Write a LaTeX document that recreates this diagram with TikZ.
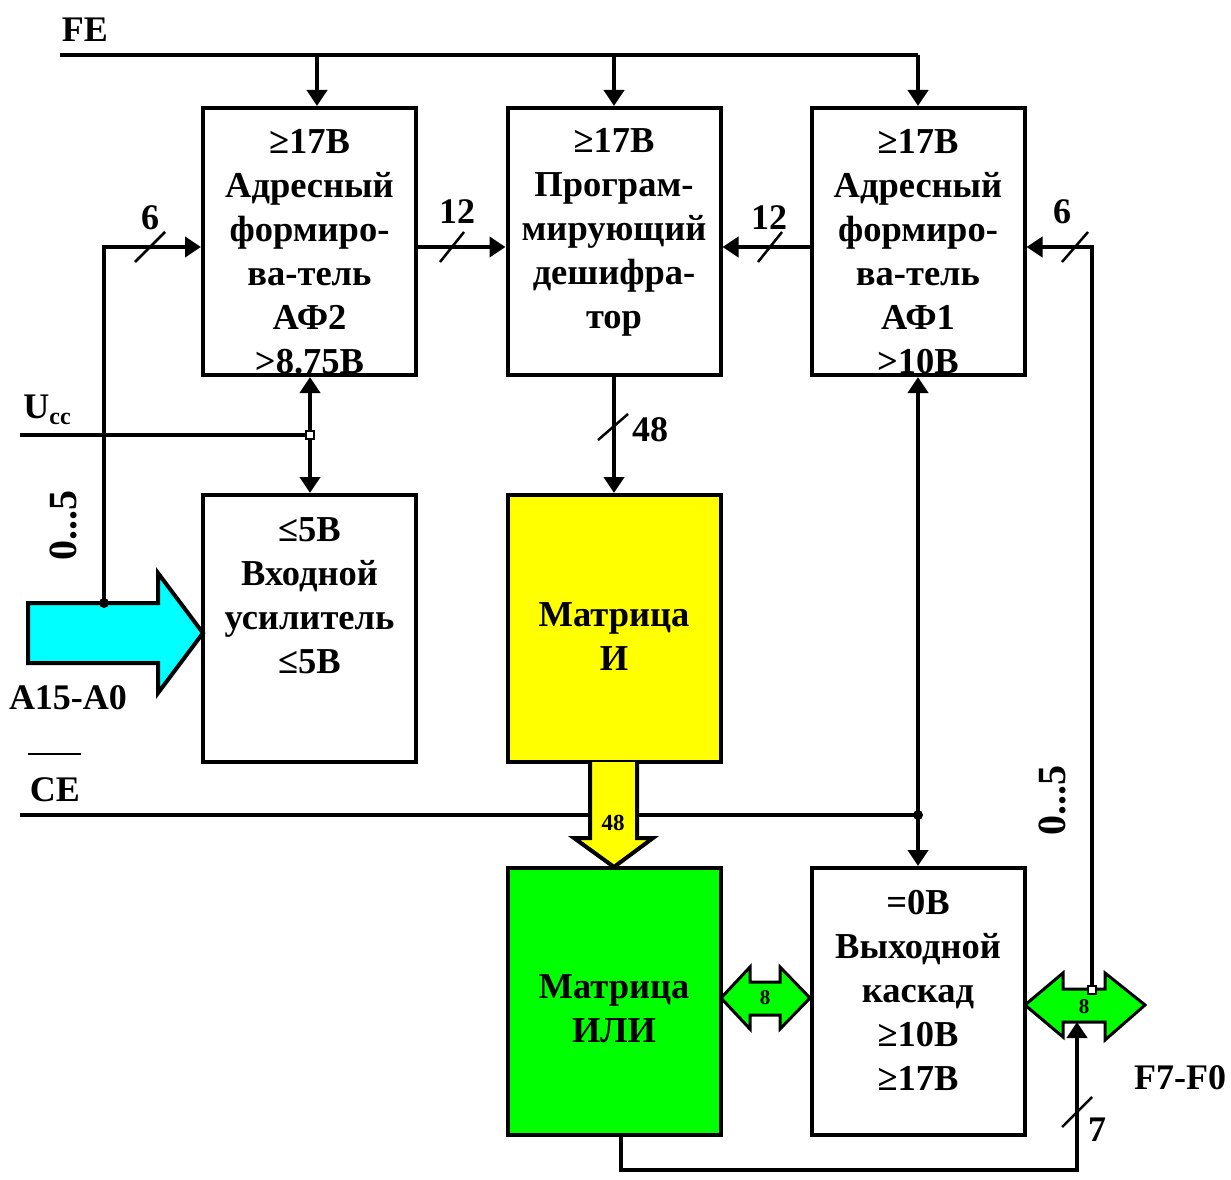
\documentclass[tikz,border=0pt]{standalone}
\usepackage{fontspec}
\setmainfont{Liberation Serif}
\usetikzlibrary{arrows.meta}
\definecolor{cy}{RGB}{0,255,255}
\definecolor{ye}{RGB}{255,255,0}
\definecolor{gr}{RGB}{0,255,0}
\begin{document}
\begin{tikzpicture}[x=1pt,y=-1pt,
  box/.style={draw, line width=4pt, minimum width=213pt, minimum height=267pt, inner sep=0pt},
  txt/.style={font=\bfseries\fontsize{36.5}{44}\selectfont, align=center, inner sep=0pt},
  lbl/.style={font=\bfseries\fontsize{36}{40}\selectfont, inner sep=0pt},
  small/.style={font=\bfseries\fontsize{23}{26}\selectfont, inner sep=0pt},
  wire/.style={line width=4pt},
  arr/.style={line width=4pt, -{Triangle[width=20pt,length=16pt]}},
  slash/.style={line width=2.5pt},
  fat/.style={line width=4pt, line join=miter},
  dot/.style={circle, fill=black, inner sep=0pt, minimum size=10pt},
  sq/.style={draw, line width=1.5pt, fill=white, inner sep=0pt, minimum size=8pt}]
\useasboundingbox (0,0) rectangle (1231,1180);

% filled boxes
\node[box, fill=ye] (mi) at (614,628.5) {};
\node[box, fill=gr] (mili) at (614,1001.5) {};

% box texts
\node[txt] (af2t) at (309.5,252) {≥17В\\Адресный\\формиро-\\ва-тель\\АФ2\\>8.75В};
\node[txt] (pdt) at (614,232) {≥17В\\Програм-\\мирующий\\дешифра-\\тор};
\node[txt] (af1t) at (918,252) {≥17В\\Адресный\\формиро-\\ва-тель\\АФ1\\>10В};
\node[txt] (ampt) at (309.5,596) {≤5В\\Входной\\усилитель\\≤5В};
\node[txt] (mit) at (614,637) {Матрица\\И};
\node[txt] (milit) at (614,1009) {Матрица\\ИЛИ};
\node[txt] (outt) at (918,990) {=0В\\Выходной\\каскад\\≥10В\\≥17В};

% white boxes
\node[box] (af2) at (309.5,241.5) {};
\node[box] (pd) at (614,241.5) {};
\node[box] (af1) at (918,241.5) {};
\node[box] (amp) at (309.5,628.5) {};
\node[box] (out) at (918,1001.5) {};

% FE bus
\node[lbl] (fe) at (85,30) {FE};
\coordinate (fe0) at (60,55);
\coordinate (feA) at (317,55);
\coordinate (feB) at (614,55);
\coordinate (feC) at (918,55);
\draw[wire] (fe0) -- (feC);
\draw[arr] (feA) -- (feA |- af2.north);
\draw[arr] (feB) -- (pd.north);
\draw[arr] (feC) -- (af1.north);

% horizontal 12-bit / 6-bit links
\coordinate (yb) at (0,247);
\draw[arr] (af2.east |- yb) -- (pd.west |- yb);
\draw[arr] (af1.west |- yb) -- (pd.east |- yb);
\draw[slash] (440,262) -- (464,232);
\node[lbl] (l12a) at (457,212) {12};
\draw[slash] (758,262) -- (782,232);
\node[lbl] (l12b) at (769,218) {12};

% Ucc
\node[lbl] (ucc) at (47,410) {U\raisebox{-6pt}{\fontsize{24}{24}\selectfont cc}};
\coordinate (ucc0) at (20,435);
\coordinate (usq) at (310,435);
\draw[wire] (ucc0) -- (usq);
\draw[arr] (usq) -- (af2.south -| usq);
\draw[arr] (usq) -- (amp.north -| usq);
\node[sq] (usqn) at (usq) {};

% CE
\node[lbl] (ce) at (55,790) {CE};
\draw[line width=2pt] (28,754) -- (81,754);
\coordinate (ce0) at (20,815);
\coordinate (cej) at (918,815);
\draw[wire] (ce0) -- (cej);
\draw[arr] (cej) -- (af1.south);
\draw[arr] (cej) -- (out.north);
\node[dot] (cedot) at (cej) {};

% PD -> Matrix I
\draw[arr] (pd.south) -- (mi.north);
\draw[slash] (598,440) -- (628,414);
\node[lbl] (l48) at (650,430) {48};

% fat yellow arrow
\draw[fat, fill=ye] (590,762) -- (590,838) -- (574,838) -- (614,867) -- (653,838) -- (637,838) -- (637,762);
\node[small] (l48b) at (613,823) {48};

% cyan input arrow
\draw[fat, fill=cy] (28,603) -- (158,603) -- (158,573) -- (203,633) -- (158,693) -- (158,663) -- (28,663) -- cycle;
\node[lbl] (a15) at (68,698) {A15-A0};
\coordinate (j1) at (104,603);
\draw[arr] (j1) |- (af2.west |- yb);
\node[dot] (j1dot) at (j1) {};
\draw[slash] (135,262) -- (165,232);
\node[lbl] (l6a) at (150,218) {6};
\node[lbl, rotate=90, font=\bfseries\fontsize{40}{40}\selectfont] (r05a) at (63,525) {0...5};

% green double arrows
\draw[fat, line width=3pt, fill=gr] (721,998) -- (750,967) -- (750,982) -- (780,982) -- (780,967) -- (810,998) -- (780,1029) -- (780,1015) -- (750,1015) -- (750,1029) -- cycle;
\node[small, font=\bfseries\fontsize{21}{24}\selectfont] (l8a) at (765,998) {8};
\draw[fat, line width=3pt, fill=gr] (1025,1005) -- (1063,973) -- (1063,989) -- (1105,989) -- (1105,973) -- (1145,1005) -- (1105,1040) -- (1105,1022) -- (1063,1022) -- (1063,1037) -- cycle;
\node[small, font=\bfseries\fontsize{21}{24}\selectfont] (l8b) at (1084,1007) {8};
\node[lbl] (f7) at (1180,1078) {F7-F0};

% right feedback to AF1
\coordinate (sq2) at (1092,990);
\draw[arr] (sq2) |- (af1.east |- yb);
\node[sq] (sq2n) at (sq2) {};
\draw[slash] (1062,262) -- (1088,232);
\node[lbl] (l6b) at (1062,212) {6};
\node[lbl, rotate=90, font=\bfseries\fontsize{40}{40}\selectfont] (r05b) at (1052,800) {0...5};

% feedback from matrix OR
\coordinate (fbs) at (621,1135);
\coordinate (fb1) at (621,1170);
\coordinate (fb2) at (1077,1170);
\coordinate (fbe) at (1077,1022);
\draw[arr] (fbs) -- (fb1) -- (fb2) -- (fbe);
\draw[slash] (1062,1127) -- (1092,1097);
\node[lbl] (l7) at (1097,1130) {7};
\end{tikzpicture}
\end{document}
